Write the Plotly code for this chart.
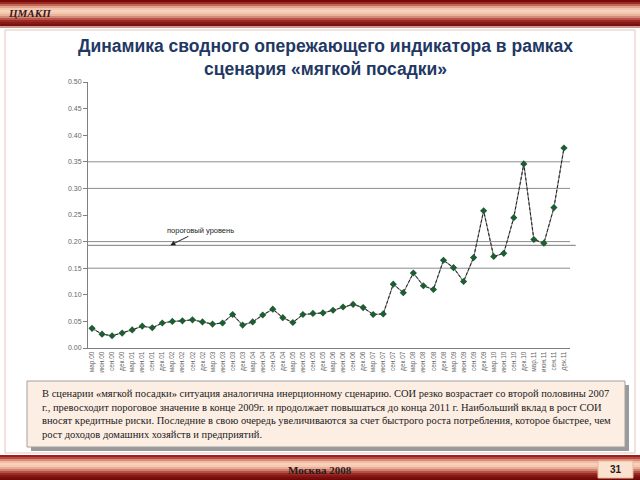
import plotly.graph_objects as go

# ---------------- data ----------------
months = ["мар", "июн", "сен", "дек"]
years = [f"{y:02d}" for y in range(0, 12)]
quarters = [f"{m}.{y}" for y in years for m in months]

soi = [0.037, 0.026, 0.023, 0.028, 0.034, 0.041, 0.038, 0.047,
       0.050, 0.051, 0.053, 0.049, 0.045, 0.047, 0.063, 0.043,
       0.049, 0.062, 0.073, 0.057, 0.048, 0.063, 0.065, 0.066,
       0.071, 0.077, 0.082, 0.076, 0.063, 0.064, 0.120, 0.104,
       0.141, 0.117, 0.110, 0.165, 0.151, 0.125, 0.170, 0.258,
       0.172, 0.178, 0.245, 0.346, 0.204, 0.197, 0.264, 0.376]

threshold = 0.193
grid_levels = [0.15, 0.20, 0.30, 0.35]
y_ticks = [0.00, 0.05, 0.10, 0.15, 0.20, 0.25, 0.30, 0.35, 0.40, 0.45, 0.50]

title_text = "Динамика сводного опережающего индикатора в рамках<br>сценария «мягкой посадки»"
body_text = ("В сценарии «мягкой посадки» ситуация аналогична инерционному сценарию. СОИ резко возрастает со второй половины 2007<br>"
             "г., превосходит пороговое значение в конце 2009г. и продолжает повышаться до конца 2011 г. Наибольший вклад в рост СОИ<br>"
             "вносят кредитные риски. Последние в свою очередь увеличиваются за счет быстрого роста потребления, которое быстрее, чем<br>"
             "рост доходов домашних хозяйств и предприятий.")

# ---------------- layout geometry ----------------
W, H = 640, 480
L, R, T, B = 88, 570, 82, 348  # plot area in pixels


def px(X):
    return (X - L) / (R - L)


def py(Y):
    return (B - Y) / (B - T)


fig = go.Figure()
fig.add_trace(go.Scatter(
    x=list(range(len(soi))), y=soi, mode="lines",
    line=dict(color="#8a8a8a", width=1.2),
    hoverinfo="skip", showlegend=False,
))
fig.add_trace(go.Scatter(
    x=list(range(len(soi))), y=soi, mode="lines+markers",
    line=dict(color="#222222", width=1, dash="3px,2px"),
    marker=dict(symbol="diamond", size=5.5, color="#1e5c32"),
    hoverinfo="skip", showlegend=False,
))

shapes = []


def band(y0, colors):
    for i, c in enumerate(colors):
        shapes.append(dict(type="rect", xref="paper", yref="paper",
                           x0=px(0), x1=px(W), y0=py(y0 + i * 2), y1=py(y0 + i * 2 + 2),
                           fillcolor=c, line=dict(width=0), layer="below"))


top_colors = ["#7a0a0a", "#9a2a22", "#c0675a", "#e2a48e", "#f3c6ae", "#f7d3bd",
              "#f4c8b0", "#e9b29a", "#d38a78", "#b85347", "#9c2a24", "#8a1a18",
              "#7a1010", "#c99a90"]
band(0, top_colors)
bot_colors = ["#9a2020", "#b84a40", "#d98a78", "#f0bca4", "#f7d1bb", "#f5c9b2",
              "#e9ae98", "#d08272", "#b55046", "#9a2a24", "#851818", "#7a0c0c",
              "#700808"]
band(455, bot_colors)

# slide border
shapes.append(dict(type="rect", xref="paper", yref="paper",
                   x0=px(5), x1=px(635), y0=py(30), y1=py(453),
                   line=dict(color="#e8c4b8", width=1), layer="below"))

# gridlines
for g in grid_levels:
    shapes.append(dict(type="line", xref="x domain", yref="y",
                       x0=0, x1=1, y0=g, y1=g,
                       line=dict(color="#8c8c8c", width=1), layer="below"))
# threshold line
shapes.append(dict(type="line", xref="x domain", yref="y",
                   x0=0, x1=1.012, y0=threshold, y1=threshold,
                   line=dict(color="#7a7a7a", width=1), layer="below"))

# text box shadow and box
shapes.append(dict(type="rect", xref="paper", yref="paper",
                   x0=px(31), x1=px(629), y0=py(385), y1=py(451),
                   fillcolor="#9a9a9a", line=dict(width=0), layer="below"))
shapes.append(dict(type="rect", xref="paper", yref="paper",
                   x0=px(27), x1=px(625), y0=py(381), y1=py(447),
                   fillcolor="#fdeee4", line=dict(color="#a0a0a0", width=1), layer="below"))

# page number box
shapes.append(dict(type="rect", xref="paper", yref="paper",
                   x0=px(598), x1=px(633), y0=py(461), y1=py(478),
                   fillcolor="#fbe2cf", line=dict(color="#e8b89c", width=1), layer="above"))

annotations = [
    dict(text="<b><i>ЦМАКП</i></b>", xref="paper", yref="paper", x=px(6), y=py(13),
         xanchor="left", yanchor="middle", showarrow=False,
         font=dict(family="Liberation Serif", size=11, color="#3a1a1a")),
    dict(text="<b>" + title_text + "</b>", xref="paper", yref="paper", x=px(325), y=py(57),
         xanchor="center", yanchor="middle", showarrow=False,
         font=dict(family="Liberation Sans", size=17.5, color="#1f3864")),
    dict(text=body_text, xref="paper", yref="paper", x=px(40), y=py(414),
         xanchor="left", yanchor="middle", align="left", showarrow=False,
         font=dict(family="Liberation Serif", size=10.5, color="#1a1a1a")),
    dict(text="<b>Москва 2008</b>", xref="paper", yref="paper", x=px(320), y=py(470),
         xanchor="center", yanchor="middle", showarrow=False,
         font=dict(family="Liberation Serif", size=11, color="#2a1a1a")),
    dict(text="<b>31</b>", xref="paper", yref="paper", x=px(616), y=py(469.5),
         xanchor="center", yanchor="middle", showarrow=False,
         font=dict(family="Liberation Sans", size=10, color="#2a1a1a")),
    dict(text="пороговый уровень", x=7.8, y=threshold, xref="x", yref="y",
         showarrow=True, ax=30, ay=-15, arrowhead=2, arrowsize=1, arrowwidth=1,
         arrowcolor="#222", font=dict(family="Liberation Sans", size=7.5, color="#222")),
]

fig.update_layout(
    width=W, height=H,
    margin=dict(l=L, r=W - R, t=T, b=H - B, pad=0),
    paper_bgcolor="white", plot_bgcolor="white",
    shapes=shapes, annotations=annotations,
    xaxis=dict(range=[-0.4, 47.6], tickmode="array", tickvals=list(range(len(quarters))),
               ticktext=quarters, tickangle=-90, ticks="", showgrid=False, zeroline=False,
               showline=True, linecolor="#808080", linewidth=1,
               tickfont=dict(family="Liberation Sans", size=6.5, color="#666")),
    yaxis=dict(range=[0, 0.5], tickmode="array", tickvals=y_ticks,
               ticktext=[f"{v:.2f}" for v in y_ticks], ticks="outside", ticklen=4,
               tickcolor="#808080", showgrid=False, zeroline=False, showline=True,
               linecolor="#808080", linewidth=1,
               tickfont=dict(family="Liberation Sans", size=7, color="#666")),
)

fig.write_html("out.html")
